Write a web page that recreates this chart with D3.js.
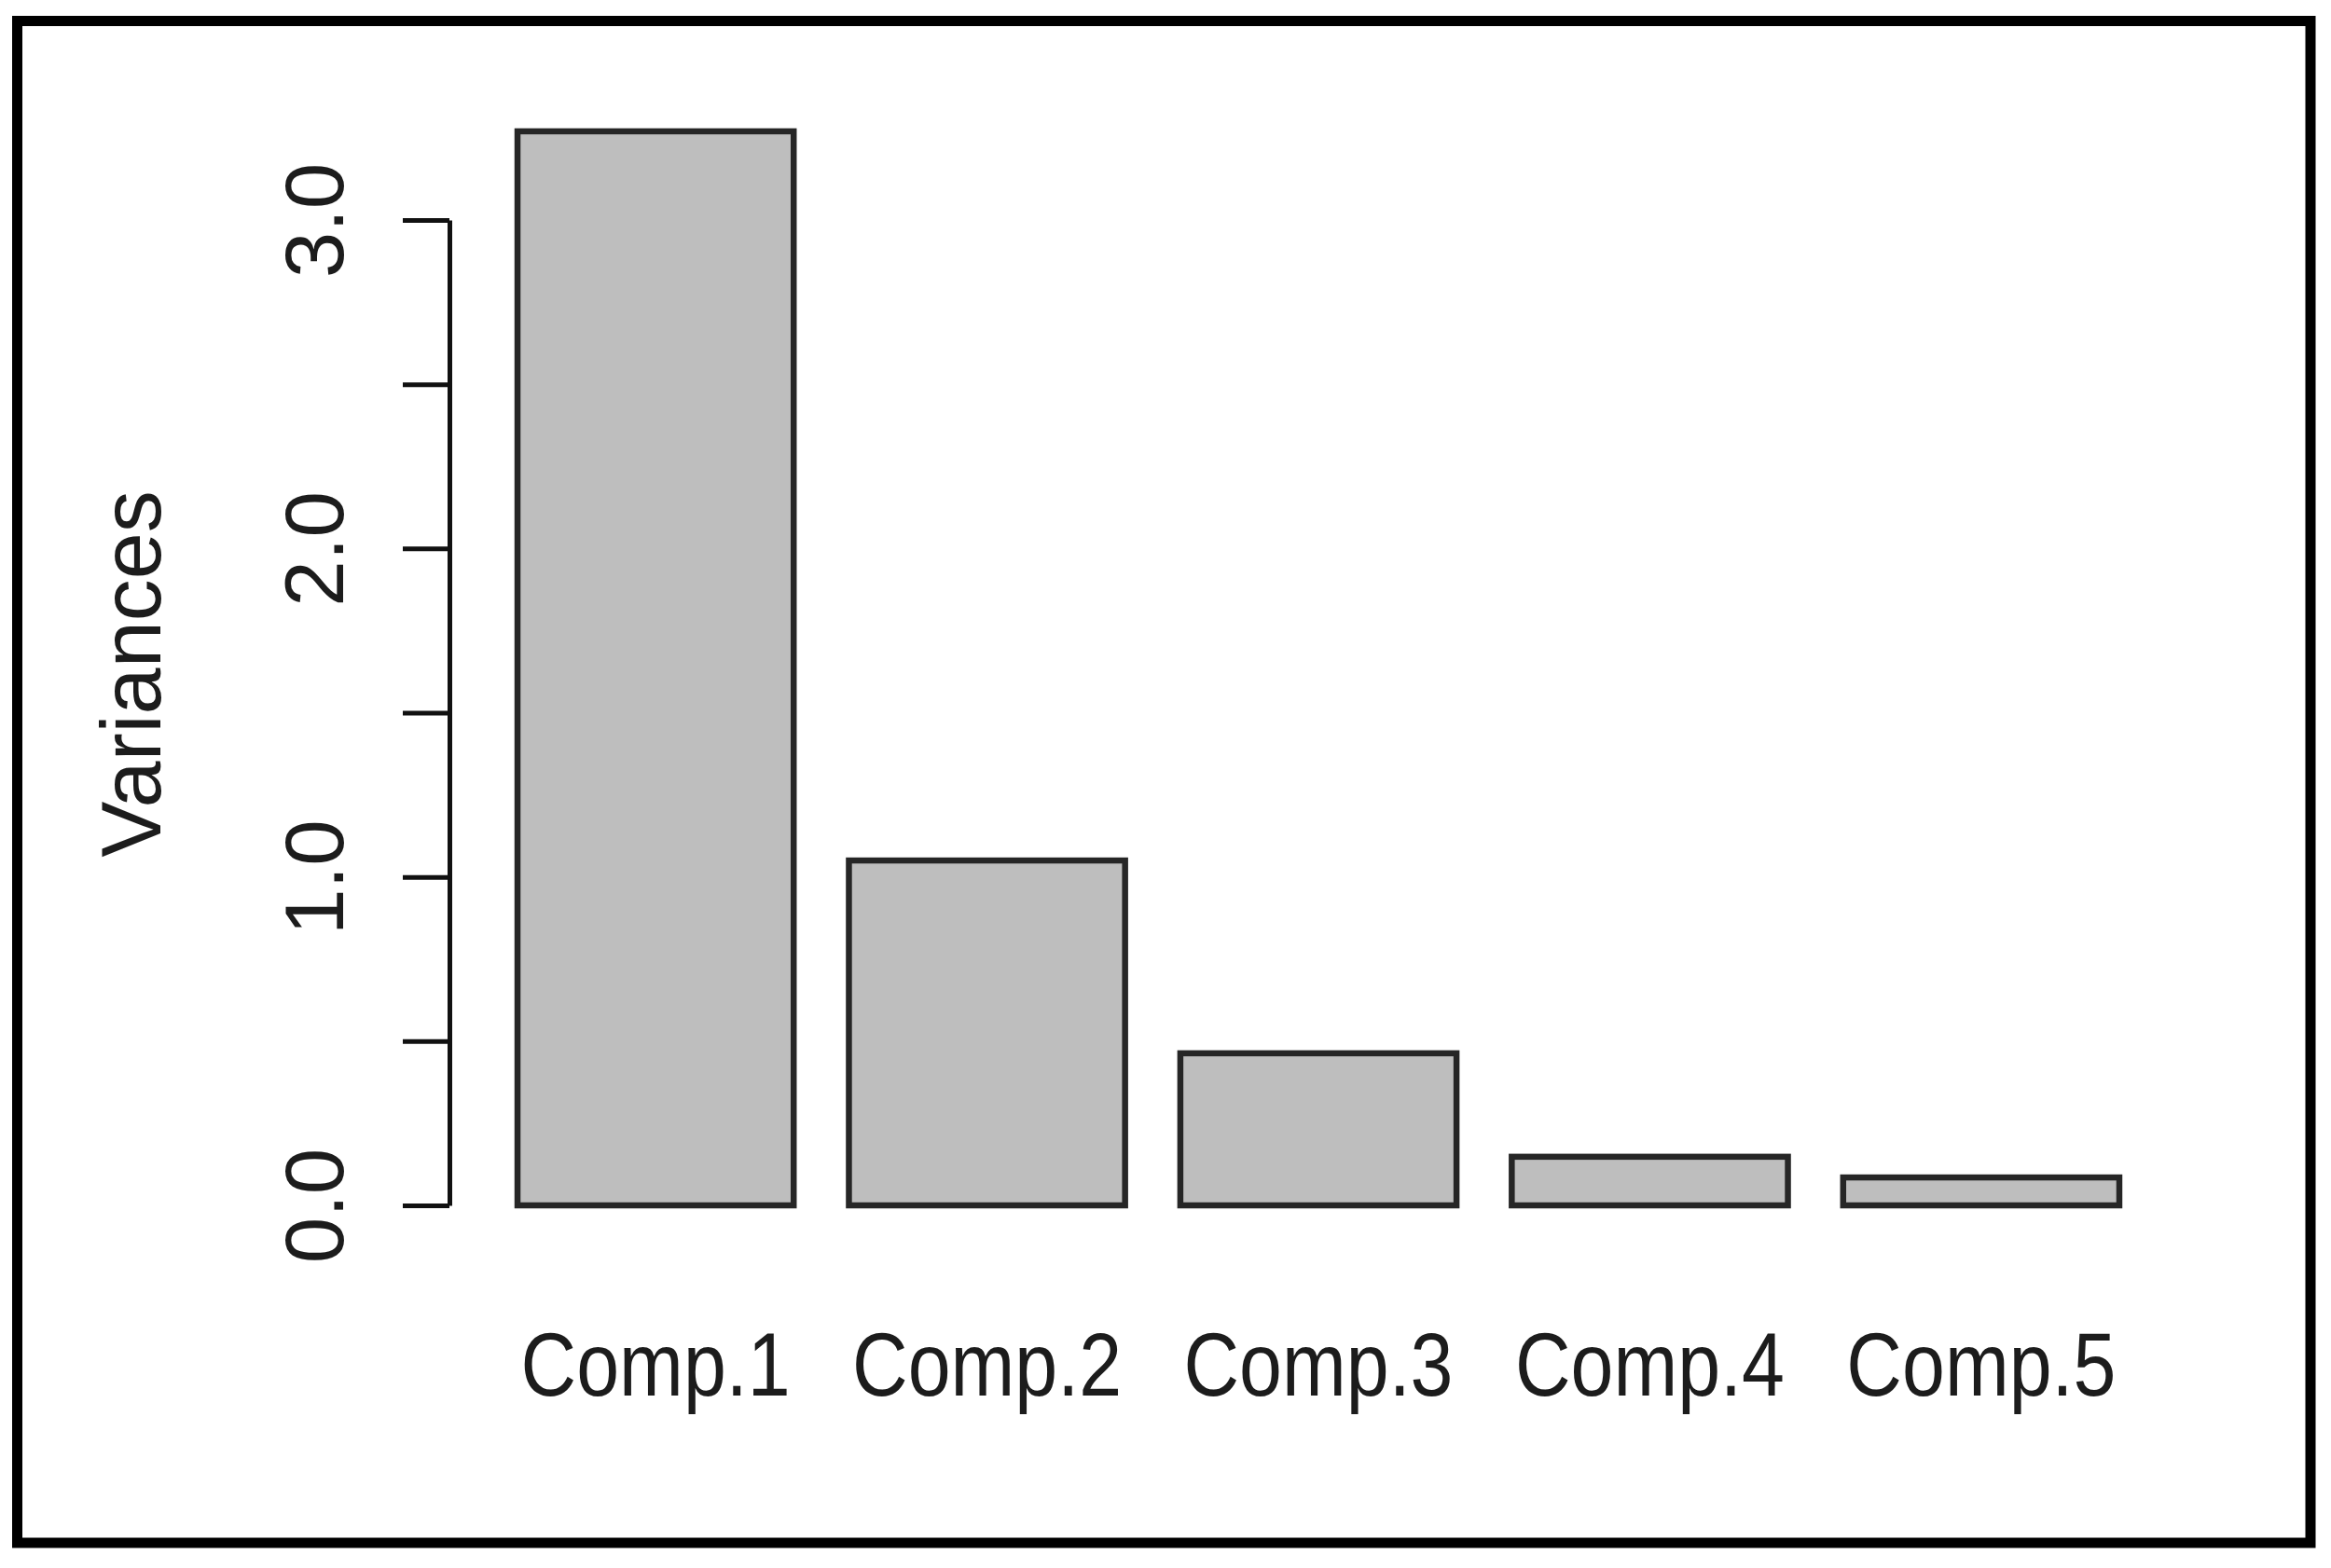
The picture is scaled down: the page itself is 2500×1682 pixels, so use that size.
<!DOCTYPE html>
<html>
<head>
<meta charset="utf-8">
<script src="https://cdn.jsdelivr.net/npm/d3@7"></script>
<style>
  html, body { margin: 0; padding: 0; background: #fff; }
  svg { display: block; }
  text { font-family: "Liberation Sans", Arial, sans-serif; fill: #1c1c1c; }
</style>
</head>
<body>
<script>
const categories = ["Comp.1", "Comp.2", "Comp.3", "Comp.4", "Comp.5"];
const variances = [3.27, 1.05, 0.463, 0.148, 0.085];
const yTicks = [0, 0.5, 1, 1.5, 2, 2.5, 3];
const yTickLabels = ["0.0", "", "1.0", "", "2.0", "", "3.0"];
const yTitle = "Variances";

const W = 2500, H = 1682;
const svg = d3.select("body").append("svg").attr("width", W).attr("height", H);

svg.append("rect").attr("width", W).attr("height", H).attr("fill", "#fff");

// outer frame
svg.append("rect")
  .attr("x", 18.5).attr("y", 22.5)
  .attr("width", 2478 - 18.5).attr("height", 1655 - 22.5)
  .attr("fill", "none").attr("stroke", "#000").attr("stroke-width", 11);

const axisX = 482;
const x = d3.scaleBand()
  .domain(categories)
  .range([525.4, 2302.6])
  .paddingInner(1 / 6)
  .paddingOuter(1 / 12);

const y = d3.scaleLinear().domain([0, 3]).range([1293, 236]);

// bars
svg.append("g").selectAll("rect")
  .data(categories.map((c, i) => ({ c, v: variances[i] })))
  .join("rect")
  .attr("x", d => x(d.c))
  .attr("y", d => y(d.v))
  .attr("width", x.bandwidth())
  .attr("height", d => y(0) - y(d.v))
  .attr("fill", "#bebebe")
  .attr("stroke", "#262626")
  .attr("stroke-width", 6.5);

// y axis
const yAxis = d3.axisLeft(y)
  .tickValues(yTicks)
  .tickSize(50)
  .tickSizeOuter(0)
  .tickFormat((d, i) => yTickLabels[i]);

const gy = svg.append("g").attr("transform", `translate(${axisX},0)`).call(yAxis);
gy.select(".domain").attr("stroke", "#111").attr("stroke-width", 5);
gy.selectAll(".tick line").attr("stroke", "#111").attr("stroke-width", 5);
gy.selectAll(".tick text")
  .attr("transform", "rotate(-90)")
  .attr("x", 0)
  .attr("y", -114)
  .attr("dy", 0)
  .attr("text-anchor", "middle")
  .attr("font-size", 89)
  .attr("font-family", "Liberation Sans, Arial, sans-serif")
  .attr("fill", "#1c1c1c");

// y title
svg.append("text")
  .attr("transform", `translate(172,723) rotate(-90)`)
  .attr("text-anchor", "middle")
  .attr("font-size", 90)
  .text(yTitle);

// x category labels
svg.append("g").selectAll("text")
  .data(categories)
  .join("text")
  .attr("transform", d => `translate(${x(d) + x.bandwidth() / 2},1497) scale(0.86,1)`)
  .attr("text-anchor", "middle")
  .attr("font-size", 96)
  .text(d => d);
</script>
</body>
</html>
